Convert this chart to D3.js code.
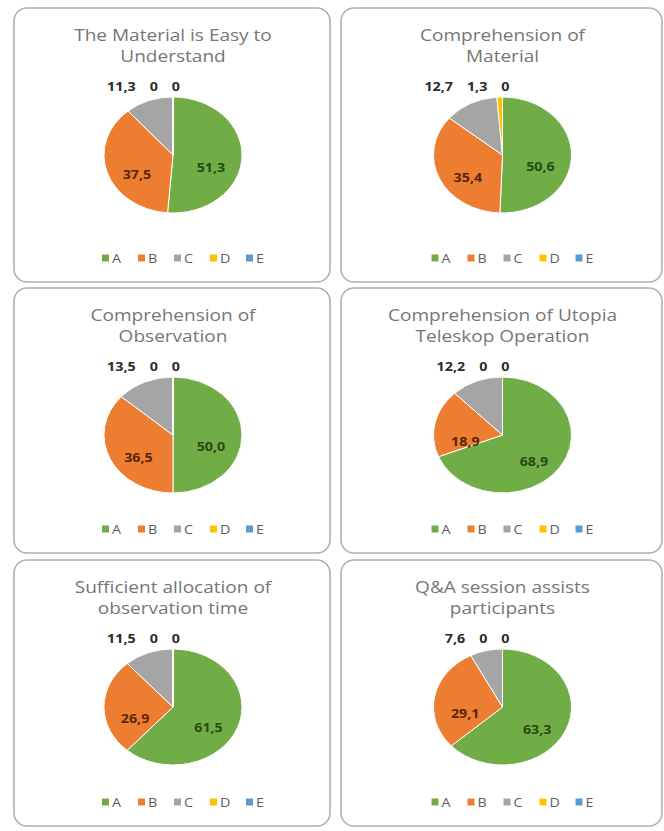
<!DOCTYPE html>
<html>
<head>
<meta charset="utf-8">
<script src="https://cdn.jsdelivr.net/npm/d3@7"></script>
<style>
  body { margin: 0; background: #fff; }
  svg { display: block; }
</style>
</head>
<body>
<svg width="664" height="831"></svg>
<script>
// answer categories and the office-style slice colours
var categories = ["A", "B", "C", "D", "E"];
var colors = ["#70ad47", "#ed7d31", "#a5a5a5", "#ffc000", "#5b9bd5"];

// chart titles, two lines each
var titles = [
    ["The Material is Easy to", "Understand"],
    ["Comprehension of", "Material"],
    ["Comprehension of", "Observation"],
    ["Comprehension of Utopia", "Teleskop Operation"],
    ["Sufficient allocation of", "observation time"],
    ["Q&A session assists", "participants"]
];

// percentages per chart (A..E)
var easyToUnderstand   = [51.3, 37.5, 11.3, 0, 0];
var compMaterial       = [50.6, 35.4, 12.7, 1.3, 0];
var compObservation    = [50.0, 36.5, 13.5, 0, 0];
var compTelescope      = [68.9, 18.9, 12.2, 0, 0];
var observationTime    = [61.5, 26.9, 11.5, 0, 0];
var qaSession          = [63.3, 29.1, 7.6, 0, 0];

var series = [easyToUnderstand, compMaterial, compObservation,
              compTelescope, observationTime, qaSession];

// panel boxes (left, top, right, bottom)
var cols = [[14, 330], [341, 662]];
var rows = [[8, 282], [288, 553], [560, 826]];

var svg = d3.select("svg");

// the source image is stretched sideways, so is everything here
var sx = 1.19;
var ry = 58, rx = ry * sx;
var pie = d3.pie().sort(null).value(function(d) { return d; });
var arc = d3.arc().innerRadius(0).outerRadius(ry);

var fmt = function(v) {
    return v === 0 ? "0" : d3.format(".1f")(v).replace(".", ",");
};
var at = function(x, y) {
    return "translate(" + x + "," + y + ") scale(" + sx + ",1)";
};

series.forEach(function(vals, i) {
    var c = cols[i % 2], r = rows[Math.floor(i / 2)];
    var x0 = c[0], x1 = c[1], y0 = r[0], y1 = r[1];
    var cx = (x0 + x1) / 2 + 1, cy = y0 + 147;

    var g = svg.append("g");

    // the rounded frame
    g.append("rect")
        .attr("x", x0).attr("y", y0)
        .attr("width", x1 - x0).attr("height", y1 - y0)
        .attr("rx", 13)
        .attr("fill", "#fff")
        .attr("stroke", "#b0b0b0")
        .attr("stroke-width", 1.6);

    // title
    g.selectAll(".title")
        .data(titles[i])
        .enter().append("text")
        .attr("transform", function(d, k) { return at((x0 + x1) / 2 + 1, y0 + 33 + k * 21); })
        .attr("text-anchor", "middle")
        .attr("font-family", "Open Sans, sans-serif")
        .attr("font-size", 16)
        .attr("fill", "#767676")
        .text(function(d) { return d; });

    // the pie, stretched into an ellipse like the source image
    var arcs = pie(vals);
    g.append("g")
        .attr("transform", at(cx, cy))
        .selectAll("path")
        .data(arcs)
        .enter().append("path")
        .attr("d", arc)
        .attr("fill", function(d, k) { return colors[k]; })
        .attr("stroke", "#fff")
        .attr("stroke-width", 1)
        .attr("vector-effect", "non-scaling-stroke");

    // data labels: big slices inside, small ones above the pie
    var inside = arcs.filter(function(d) { return d.data >= 15; });
    var inColors = ["#2a4a14", "#5a260a"];
    g.selectAll(".in")
        .data(inside)
        .enter().append("text")
        .attr("transform", function(d) {
            var a = (d.startAngle + d.endAngle) / 2;
            return at(cx + rx * 0.55 * Math.sin(a), cy - ry * 0.45 * Math.cos(a) + 16);
        })
        .attr("text-anchor", "middle")
        .attr("font-family", "Open Sans, sans-serif")
        .attr("font-weight", "bold")
        .attr("font-size", 12)
        .attr("fill", function(d) { return inColors[d.index] || "#262626"; })
        .text(function(d) { return fmt(d.data); });

    var outside = arcs.filter(function(d) { return d.data < 15; }).reverse();
    var right = cx + 7, ly = cy - ry - 6;
    outside.forEach(function(d) {
        var t = g.append("text")
            .attr("transform", at(right, ly))
            .attr("text-anchor", "end")
            .attr("font-family", "Open Sans, sans-serif")
            .attr("font-weight", "bold")
            .attr("font-size", 12)
            .attr("fill", "#2a2a2a")
            .text(fmt(d.data));
        right -= t.node().getComputedTextLength() * sx + 14;
    });

    // legend
    var step = 36, lx = cx - 71, legY = y1 - 24;
    var items = g.selectAll(".leg")
        .data(categories)
        .enter().append("g")
        .attr("transform", function(d, k) {
            return "translate(" + (lx + k * step) + "," + legY + ")";
        });
    items.append("rect")
        .attr("x", 0).attr("y", -3.5)
        .attr("width", 7).attr("height", 7)
        .attr("fill", function(d, k) { return colors[k]; });
    items.append("text")
        .attr("transform", at(10, 4.5))
        .attr("font-family", "Open Sans, sans-serif")
        .attr("font-size", 12)
        .attr("fill", "#5e5e5e")
        .text(function(d) { return d; });
});
</script>
</body>
</html>
